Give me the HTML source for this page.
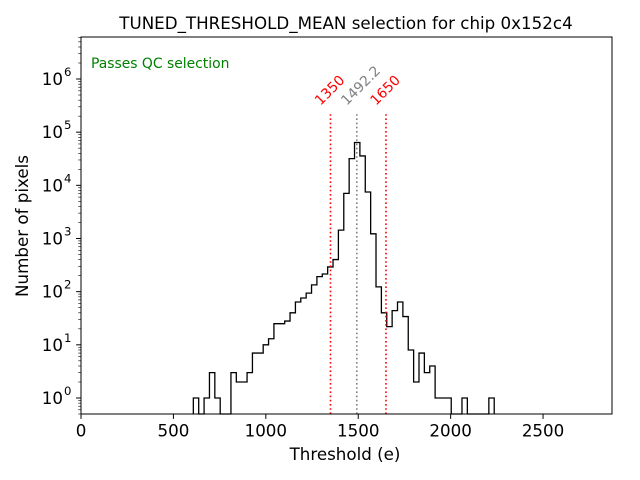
<!DOCTYPE html>
<html><head><meta charset="utf-8"><style>
body{margin:0;background:#fff}
svg{display:block;font-family:"DejaVu Sans","Liberation Sans",sans-serif}
</style></head><body>
<svg id="chart" width="640" height="480">
<rect width="640" height="480" fill="#fff"/>
<g id="minor"></g>
<g id="ticks"></g>
<g id="marks"></g>
<rect x="81" y="37" width="531" height="377" fill="none" stroke="#000" stroke-width="1"/>
<text x="346" y="29" font-size="16.7" text-anchor="middle">TUNED_THRESHOLD_MEAN selection for chip 0x152c4</text>
<text x="91" y="68" font-size="13.9" fill="green">Passes QC selection</text>
<text x="345" y="460" font-size="16.7" text-anchor="middle">Threshold (e)</text>
<text transform="translate(28,226) rotate(-90)" font-size="16.7" text-anchor="middle">Number of pixels</text>
</svg>
<script>
const binStart = 607.8;
const binWidth = 29.07;
const counts = [1,0,1,3,1,0,0,3,2,2,3,7,7,10,13,25,25,28,40,64,76,94,134,192,215,
292,402,1435,7070,31800,64000,35700,7480,1225,123,40,22,44,64,34,8,2,7,3,4,1,1,1,0,0,1,0,0,0,0,1];
const xTicks = [0,500,1000,1500,2000,2500];
const yExps = [0,1,2,3,4,5,6];
const cutLow = 1350, cutHigh = 1650, meanVal = 1492.2;

const L=81,R=612,T=37,B=414;
const xMin=0,xMax=2873;
const yLogMin=Math.log10(0.5), yLogMax=6.79;
const sx=v=>L+(v-xMin)/(xMax-xMin)*(R-L);
const sy=v=>v<=0?B:B-(Math.log10(v)-yLogMin)/(yLogMax-yLogMin)*(B-T);
const NS='http://www.w3.org/2000/svg';
function mk(tag,attrs,parent){const e=document.createElementNS(NS,tag);for(const k in attrs)e.setAttribute(k,attrs[k]);parent.appendChild(e);return e;}
const ticks=document.getElementById('ticks'),minor=document.getElementById('minor'),marks=document.getElementById('marks');

xTicks.forEach(v=>{
  const l=mk('line',{x1:sx(v),x2:sx(v),y1:B,y2:B+4.9,stroke:'#000'},ticks);
  
  
  const t=mk('text',{x:sx(v),y:B+22.5,'font-size':16.7,'text-anchor':'middle'},ticks);
  t.textContent=v;
  
  
});
yExps.forEach(e=>{
  const y=sy(Math.pow(10,e));
  const l=mk('line',{x1:L-4.9,x2:L,y1:y,y2:y,stroke:'#000'},ticks);
  
  
  const t=mk('text',{x:L-18,y:y+6,'font-size':16.7,'text-anchor':'end'},ticks);
  t.textContent='10';
  
  
  const s=mk('text',{x:L-17,y:y-3,'font-size':11.7},ticks);
  s.textContent=e;
});
for(let e=-1;e<=6;e++)for(let m=2;m<=9;m++){
  const v=m*Math.pow(10,e);const y=sy(v);
  if(y<T||y>B)continue;
  mk('line',{x1:L-2.8,x2:L,y1:y,y2:y,stroke:'#000','stroke-width':0.6},minor);
}
let d='M'+sx(binStart)+','+B;
counts.forEach((c,i)=>{
  const x0=sx(binStart+i*binWidth),x1=sx(binStart+(i+1)*binWidth),y=sy(c);
  d+=' L'+x0+','+y+' L'+x1+','+y;
});
d+=' L'+sx(binStart+counts.length*binWidth)+','+B;
const h=mk('path',{d:d,fill:'none',stroke:'#000','stroke-width':1.3},marks);



[[cutLow,'red','1350','cut-low-line'],[meanVal,'grey','1492.2','mean-line'],[cutHigh,'red','1650','cut-high-line']].forEach(([v,c,lab,n])=>{
  const x=sx(v);
  const l=mk('line',{x1:x,x2:x,y1:B,y2:113,stroke:c,'stroke-width':1.6,'stroke-dasharray':'1.6,2.6'},marks);
  
  
  const t=mk('text',{x:x-10,y:106,'font-size':13.9,fill:c,transform:'rotate(-45 '+(x-10)+' 106)'},marks);
  t.textContent=lab;
  
  
});
</script>
</body></html>
